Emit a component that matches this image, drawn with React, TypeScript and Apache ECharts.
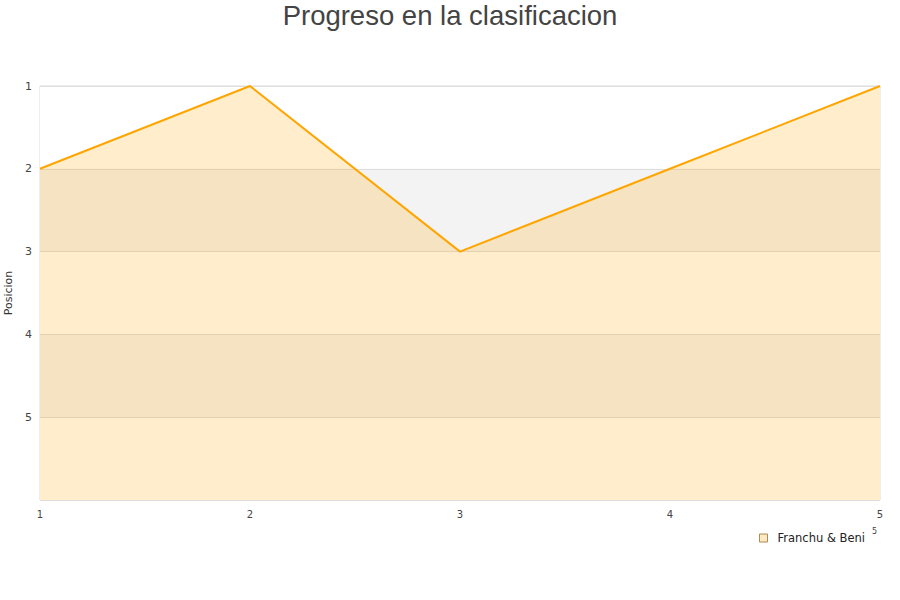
import React, { useEffect, useRef } from "react";
import * as echarts from "echarts";

const jornadas = ["1", "2", "3", "4", "5"];
const posiciones = [2, 1, 3, 2, 1];
const seriesName = "Franchu & Beni";
const titleText = "Progreso en la clasificacion";
const yAxisName = "Posicion";

export default function App() {
  const ref = useRef<HTMLDivElement>(null);
  useEffect(() => {
    const chart = echarts.init(ref.current!, null, { renderer: "svg" });
    chart.setOption({
      animation: false,
      title: {
        text: titleText,
        left: "center",
        top: -4,
        textStyle: {
          fontFamily: "Liberation Sans, Arial, sans-serif",
          fontSize: 27.5,
          fontWeight: "normal",
          color: "#444",
        },
      },
      grid: {
        left: 40,
        right: 20,
        top: 86,
        bottom: 100,
        containLabel: false,
        outerBoundsMode: "none",
        show: true,
        borderColor: "#dddddd",
        borderWidth: 1,
        backgroundColor: "transparent",
      },
      legend: {
        data: [
          {
            name: seriesName,
            icon: "rect",
            itemStyle: {
              color: "#fde9c4",
              borderColor: "#b08a50",
              borderWidth: 1,
              opacity: 1,
            },
          },
        ],
        left: 754,
        top: 527,
        itemWidth: 8,
        itemHeight: 8,
        itemGap: 8,
        textStyle: {
          fontFamily: "DejaVu Sans, sans-serif",
          fontSize: 11.5,
          color: "#222",
          padding: [0, 0, 0, 5],
        },
      },
      xAxis: {
        type: "category",
        data: jornadas,
        boundaryGap: false,
        axisLine: { show: false },
        axisTick: { show: false },
        splitLine: { show: false },
        axisLabel: {
          fontFamily: "DejaVu Sans, sans-serif",
          fontSize: 10,
          color: "#444",
          margin: 9,
        },
      },
      yAxis: {
        type: "value",
        inverse: true,
        min: 1,
        max: 6,
        interval: 1,
        name: yAxisName,
        nameLocation: "middle",
        nameGap: 21,
        nameTextStyle: { fontFamily: "DejaVu Sans, sans-serif", fontSize: 11, color: "#333" },
        axisLine: { show: false },
        axisTick: { show: false },
        axisLabel: {
          fontFamily: "DejaVu Sans, sans-serif",
          fontSize: 11,
          color: "#444",
          margin: 8,
          formatter: (v: number) => (v >= 6 ? "" : String(v)),
        },
        splitLine: { show: true, lineStyle: { color: "#dddddd", width: 1 } },
        splitArea: {
          show: true,
          areaStyle: { color: ["#ffffff", "#f3f3f3"] },
        },
      },
      graphic: [
        {
          type: "text",
          left: 872,
          top: 527,
          style: { text: "5", fontSize: 8, fill: "#444", fontFamily: "DejaVu Sans, sans-serif" },
        },
      ],
      series: [
        {
          name: seriesName,
          type: "line",
          data: posiciones,
          showSymbol: false,
          symbol: "none",
          lineStyle: { color: "#ffa500", width: 2 },
          itemStyle: { color: "#ffa500" },
          areaStyle: { color: "rgba(255,165,0,0.2)", opacity: 1, origin: "end" },
        },
      ],
    });
    return () => chart.dispose();
  }, []);
  return <div ref={ref} style={{ width: 900, height: 600, position: "absolute", left: 0, top: 0 }} />;
}
